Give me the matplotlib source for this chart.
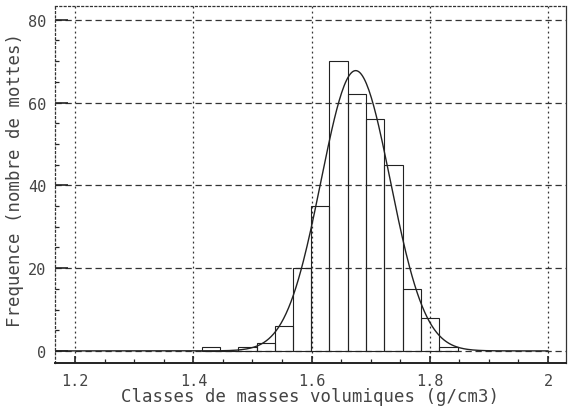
import numpy as np
import matplotlib.pyplot as plt
from matplotlib.ticker import MultipleLocator

# histogram of bulk densities (classes of 0.0309 g/cm3)
bin_edges = [1.414, 1.445, 1.476, 1.507, 1.538, 1.569, 1.599, 1.630,
             1.661, 1.692, 1.723, 1.754, 1.785, 1.816, 1.847]
counts = [1, 0, 1, 2, 6, 20, 35, 70, 62, 56, 45, 15, 8, 1]

x_ticks = [1.2, 1.4, 1.6, 1.8, 2.0]
x_tick_labels = ["1.2", "1.4", "1.6", "1.8", "2"]
y_ticks = [0, 20, 40, 60, 80]
y_tick_labels = ["0", "20", "40", "60", "80"]

edges = np.array(bin_edges)
n = np.array(counts)
centers = (edges[:-1] + edges[1:]) / 2
widths = np.diff(edges)

# normal curve fitted to the binned data
mu = np.sum(centers * n) / n.sum()
sigma = np.sqrt(np.sum(n * (centers - mu) ** 2) / n.sum())
xs = np.linspace(1.166, 2.0, 400)
ys = n.sum() * widths.mean() / (sigma * np.sqrt(2 * np.pi)) * np.exp(-0.5 * ((xs - mu) / sigma) ** 2)

font = "DejaVu Sans Mono"
txt = "#444444"

fig = plt.figure(figsize=(5.68, 4.14), dpi=100)
ax = fig.add_axes([0.097, 0.121, 0.900, 0.862])

ax.bar(edges[:-1], n, width=widths, align="edge", fill=False,
       edgecolor="#222222", linewidth=0.8)
ax.plot(xs, ys, color="#222222", linewidth=1.0)

ax.set_xlim(1.166, 2.031)
ax.set_ylim(-2.9, 83.3)

# grid: dashed horizontals, dotted verticals
for y in y_ticks:
    ax.axhline(y, color="#333333", linewidth=0.9, linestyle=(0, (5, 3)), zorder=0)
for x in x_ticks:
    ax.axvline(x, color="#333333", linewidth=0.9, linestyle=(0, (1.5, 2.5)), zorder=0)

ax.spines["top"].set_linestyle((0, (1.5, 2)))
ax.spines["left"].set_linestyle((0, (1.5, 2)))
for s in ["top", "left", "right"]:
    ax.spines[s].set_linewidth(0.9)
    ax.spines[s].set_color("#333333")
ax.spines["bottom"].set_linewidth(1.4)
ax.spines["bottom"].set_color("#222222")

ax.set_xticks(x_ticks)
ax.set_xticklabels(x_tick_labels, fontfamily=font, fontsize=11, color=txt)
ax.set_yticks(y_ticks)
ax.set_yticklabels(y_tick_labels, fontfamily=font, fontsize=11, color=txt)
ax.xaxis.set_minor_locator(MultipleLocator(0.05))
ax.yaxis.set_minor_locator(MultipleLocator(5))
ax.tick_params(axis="x", which="major", direction="in", length=5, width=1.2, color="#222222", pad=7)
ax.tick_params(axis="y", which="major", direction="in", length=9, width=1.2, color="#222222", pad=6.5)
ax.tick_params(axis="both", which="minor", direction="in", length=3, width=0.9, color="#222222")

fig.text(0.545, 0.041, "Classes de masses volumiques (g/cm3)", fontfamily=font,
         fontsize=12.5, color=txt, ha="center", va="center")
fig.text(0.027, 0.565, "Frequence (nombre de mottes)", fontfamily=font,
         fontsize=12.5, color=txt, ha="center", va="center", rotation=90)

fig.savefig("out.png", dpi=100)
